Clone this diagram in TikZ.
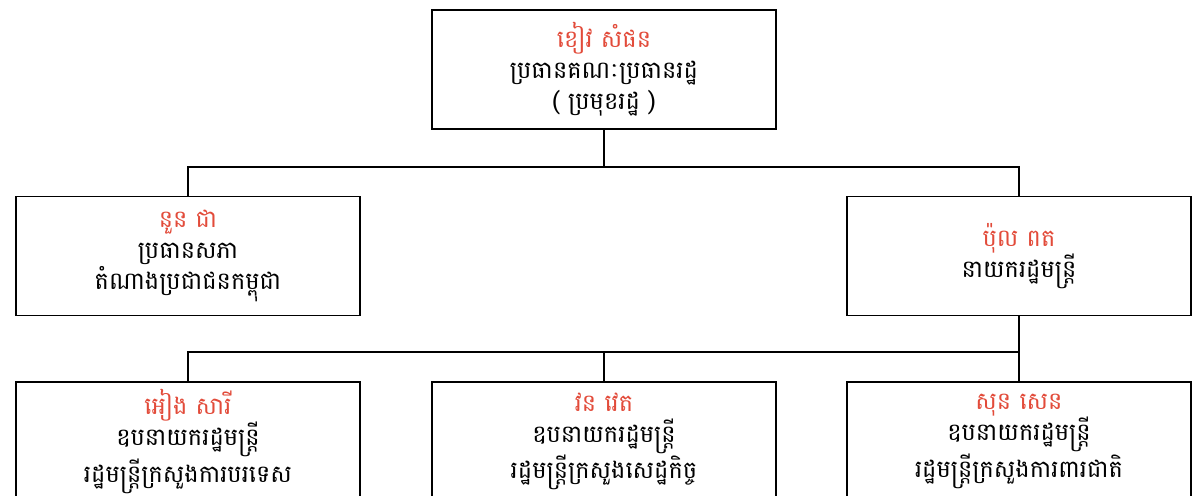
\documentclass[tikz,border=0pt]{standalone}
\usepackage{fontspec}
\newfontfamily\khmerfont[Script=Khmer]{Battambang}
\definecolor{namered}{RGB}{226,75,58}

\begin{document}
\begin{tikzpicture}[x=0.02cm,y=-0.02cm,
		post/.style={draw,line width=1.1pt,minimum width=6.88cm,minimum height=2.38cm,
			inner sep=0pt,align=center,font=\khmerfont\fontsize{13.7}{17.6}\selectfont},
		wire/.style={line width=1.1pt}]
		\useasboundingbox (0,0) rectangle (1192,495);
		% head of state
		\node[post] (ks) at (604,69.5) {\textcolor{namered}{ខៀវ សំផន}\\ប្រធានគណៈប្រធានរដ្ឋ\\( ប្រមុខរដ្ឋ )};
		\node[post] (nc) at (188,256) {\textcolor{namered}{នួន ជា}\\ប្រធានសភា\\តំណាងប្រជាជនកម្ពុជា};
		\node[post] (pp) at (1019,256) {\textcolor{namered}{ប៉ុល ពត}\\នាយករដ្ឋមន្ត្រី};
		\coordinate (j1) at (604,167);
		\coordinate (j2) at (1019,352);
		\draw[wire] (ks.south) -- (j1);
		\draw[wire] (nc.north) |- (j1) -| (pp.north);
		\draw[wire] (pp.south) -- (j2);
		% deputy prime ministers
		\foreach \X/\N/\T [count=\Y] in {188/{អៀង សារី}/{រដ្ឋមន្ត្រីក្រសួងការបរទេស},
			604/{វន វេត}/{រដ្ឋមន្ត្រីក្រសួងសេដ្ឋកិច្ច},1019/{សុន សេន}/{រដ្ឋមន្ត្រីក្រសួងការពារជាតិ}}
		{\node[post] (v\Y) at (\X,441.5) {\textcolor{namered}{\N}\\ឧបនាយករដ្ឋមន្ត្រី\\\T};
			\draw[wire] (v\Y.north) |- (j2);}
\end{tikzpicture}
\end{document}
